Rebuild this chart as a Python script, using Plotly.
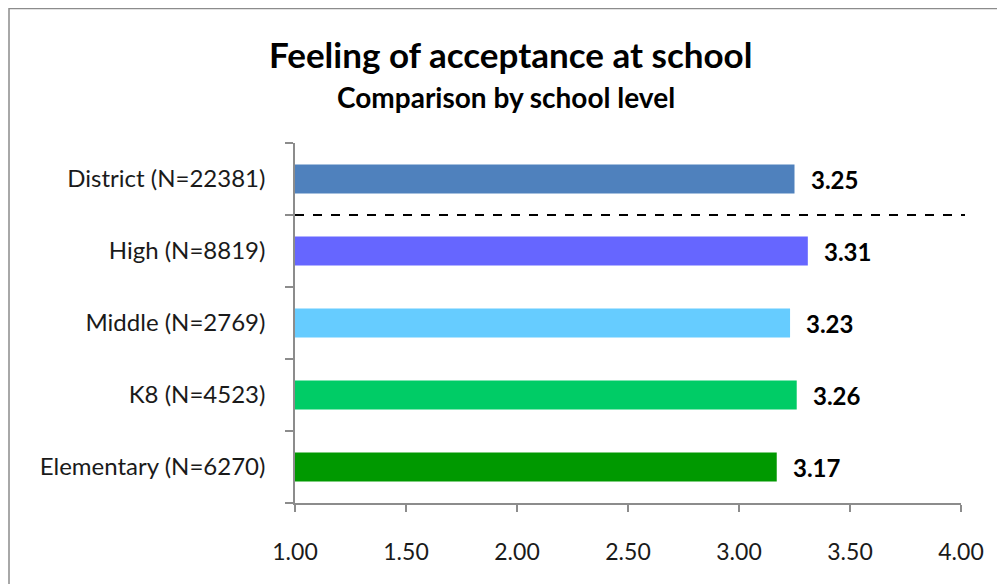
import plotly.graph_objects as go

categories = ["Elementary (N=6270)", "K8 (N=4523)", "Middle (N=2769)", "High (N=8819)", "District (N=22381)"]
values = [3.17, 3.26, 3.23, 3.31, 3.25]
colors = ["#009900", "#00CC66", "#66CCFF", "#6666FF", "#4F81BD"]
x_ticks = [1.0, 1.5, 2.0, 2.5, 3.0, 3.5, 4.0]
x_tick_labels = ["1.00", "1.50", "2.00", "2.50", "3.00", "3.50", "4.00"]

FONT = "Lato, 'Open Sans', sans-serif"
W, H = 1005, 584
OFF = 8  # page body margin
L, T = 295 - OFF, 143 - OFF
R = W - (961 - OFF)
B = H - (503 - OFF)
PW, PH = W - L - R, H - T - B

def px(sx):
    return (sx - OFF - L) / PW

def py(sy):
    return (H - B - (sy - OFF)) / PH

fig = go.Figure(go.Bar(
    x=values, y=categories, orientation="h",
    marker=dict(color=colors, line=dict(width=0)),
    width=0.4, showlegend=False,
))

for v, c in zip(values, categories):
    fig.add_annotation(x=v, y=c, text=f"<b>{v:.2f}</b>", showarrow=False,
                       xanchor="left", xshift=14,
                       font=dict(family=FONT, size=24, color="#000000"))

fig.add_annotation(xref="paper", yref="paper", x=px(510), y=py(54),
                   text="<b>Feeling of acceptance at school</b>", showarrow=False,
                   xanchor="center", yanchor="middle",
                   font=dict(family=FONT, size=35, color="#000000"))
fig.add_annotation(xref="paper", yref="paper", x=px(506), y=py(97),
                   text="<b>Comparison by school level</b>", showarrow=False,
                   xanchor="center", yanchor="middle",
                   font=dict(family=FONT, size=28, color="#000000"))

fig.add_shape(type="line", xref="paper", yref="y", x0=0, x1=px(965), y0=3.5, y1=3.5,
              line=dict(color="#000000", width=2, dash="dash"))
fig.add_shape(type="rect", xref="paper", yref="paper", x0=px(OFF + 1), x1=px(W + 20),
              y0=py(H + 20), y1=py(OFF + 0.5), line=dict(color="#8C8C8C", width=1.5),
              fillcolor="rgba(0,0,0,0)", layer="below")

fig.update_xaxes(range=[1, 4], tickvals=x_ticks, ticktext=x_tick_labels,
                 showgrid=False, zeroline=False, showline=True, linecolor="#8C8C8C",
                 linewidth=1.5, ticks="outside", ticklen=7, tickcolor="#8C8C8C",
                 tickwidth=1.5, ticklabelstandoff=21,
                 tickfont=dict(family=FONT, size=23, color="#1A1A1A"))
fig.update_yaxes(categoryorder="array", categoryarray=categories, tickson="boundaries",
                 showgrid=False, zeroline=False, showline=True, linecolor="#8C8C8C",
                 linewidth=1.5, ticks="outside", ticklen=8, tickcolor="#8C8C8C",
                 tickwidth=1.5, ticklabelstandoff=23,
                 tickfont=dict(family=FONT, size=24, color="#1A1A1A"))

fig.update_layout(width=W, height=H, margin=dict(l=L, r=R, t=T, b=B),
                  plot_bgcolor="white", paper_bgcolor="white", bargap=0.6)

fig.write_html("out.html")
